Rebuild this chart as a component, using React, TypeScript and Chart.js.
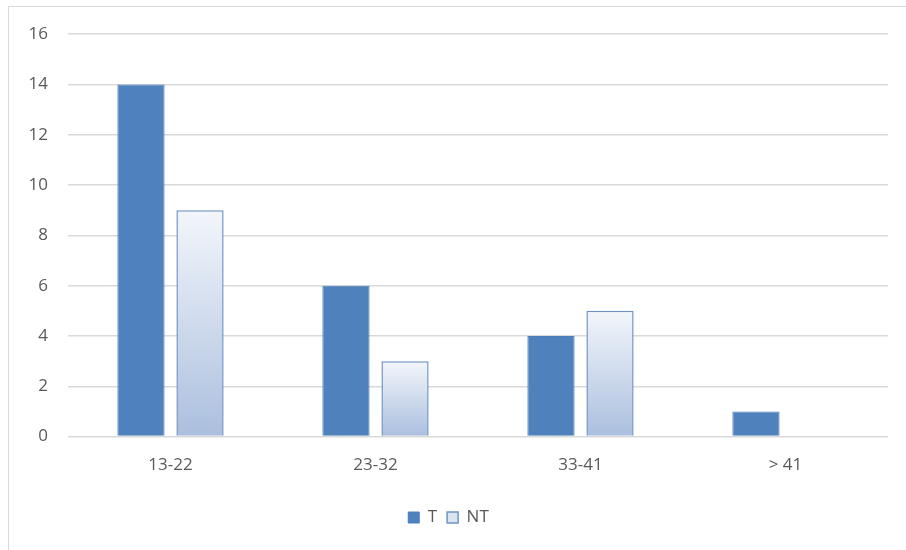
import React, { useEffect, useRef } from "react";
import { Chart, registerables } from "chart.js";

Chart.register(...registerables);

const categories = ["13-22", "23-32", "33-41", "> 41"];
const seriesT = [14, 6, 4, 1];
const seriesNT = [9, 3, 5, 0];
const yTicks = [0, 2, 4, 6, 8, 10, 12, 14, 16];

const FONT = "'Open Sans', 'Liberation Sans', sans-serif";
const TEXT = "#595959";

export default function App() {
  const ref = useRef<HTMLCanvasElement | null>(null);

  useEffect(() => {
    if (!ref.current) return;
    const ntFill = (ctx: any) => {
      const chart = ctx.chart;
      const area = chart.chartArea;
      if (!area || ctx.type !== "data") return "#d6e1f0";
      const y = chart.scales.y;
      const v = ctx.raw as number;
      const top = y.getPixelForValue(v);
      const bottom = y.getPixelForValue(0);
      if (!isFinite(top) || !isFinite(bottom) || top === bottom) return "#d6e1f0";
      const g = chart.ctx.createLinearGradient(0, top, 0, bottom);
      g.addColorStop(0, "#f3f6fb");
      g.addColorStop(1, "#aabfde");
      return g;
    };

    const chart = new Chart(ref.current, {
      type: "bar",
      data: {
        labels: categories,
        datasets: [
          {
            label: "T",
            data: seriesT,
            backgroundColor: "#4f81bd",
            borderColor: "#4a7ebb",
            borderWidth: 1,
            categoryPercentage: 0.576,
            barPercentage: 0.8,
          },
          {
            label: "NT",
            data: seriesNT,
            backgroundColor: ntFill,
            borderColor: "#7093c5",
            borderWidth: 1.5,
            categoryPercentage: 0.576,
            barPercentage: 0.8,
          },
        ],
      },
      options: {
        animation: false,
        responsive: false,
        maintainAspectRatio: false,
        layout: { padding: { left: 0, right: 18, top: 14, bottom: 14 } },
        plugins: {
          tooltip: { enabled: false },
          legend: {
            position: "bottom",
            labels: {
              boxWidth: 11,
              boxHeight: 11,
              padding: 10,
              color: TEXT,
              font: { family: FONT, size: 17 },
              generateLabels: () => [
                {
                  text: "T",
                  fillStyle: "#4f81bd",
                  strokeStyle: "#4a7ebb",
                  lineWidth: 1,
                  fontColor: TEXT,
                  datasetIndex: 0,
                  hidden: false,
                },
                {
                  text: "NT",
                  fillStyle: "#dbe5f2",
                  strokeStyle: "#7093c5",
                  lineWidth: 1.5,
                  fontColor: TEXT,
                  datasetIndex: 1,
                  hidden: false,
                },
              ],
            },
          },
        },
        scales: {
          x: {
            grid: { display: false, drawTicks: false },
            border: { display: false },
            afterFit: (s: any) => {
              s.height += 6;
            },
            ticks: {
              color: TEXT,
              font: { family: FONT, size: 17 },
              padding: 18,
            },
          },
          y: {
            min: 0,
            max: 16,
            afterBuildTicks: (s: any) => {
              s.ticks = yTicks.map((v) => ({ value: v }));
            },
            afterFit: (s: any) => {
              s.width = 59;
            },
            grid: { color: "#d9d9d9", lineWidth: 1.5, drawTicks: false },
            border: { display: false },
            ticks: {
              color: TEXT,
              font: { family: FONT, size: 17 },
              padding: 20,
            },
          },
        },
      },
    });
    return () => chart.destroy();
  }, []);

  return (
    <div
      style={{
        position: "absolute",
        left: 8,
        top: 6,
        width: 898,
        height: 544,
        borderTop: "1.5px solid #d9d9d9",
        borderLeft: "1.5px solid #d9d9d9",
        background: "#fff",
      }}
    >
      <canvas
        ref={ref}
        width={897}
        height={546}
        style={{ display: "block", position: "absolute", left: 0, top: -3 }}
      />
    </div>
  );
}
